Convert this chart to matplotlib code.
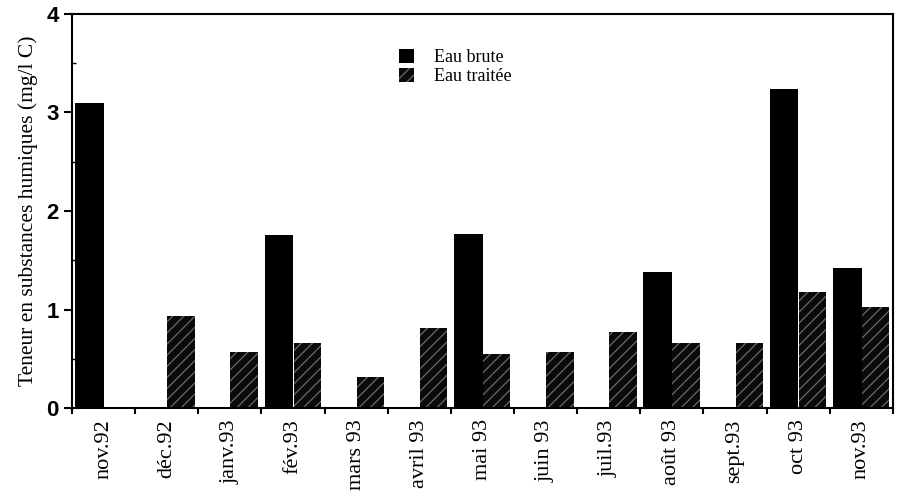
import matplotlib
matplotlib.use("Agg")
import matplotlib.pyplot as plt
import numpy as np
from matplotlib.ticker import FixedLocator, NullFormatter

categories = ["nov.92", "déc.92", "janv.93", "fév.93", "mars 93", "avril 93",
              "mai 93", "juin 93", "juil.93", "août 93", "sept.93", "oct 93", "nov.93"]
eau_brute = [3.10, 0.0, 0.0, 1.76, 0.0, 0.0, 1.77, 0.0, 0.0, 1.38, 0.0, 3.24, 1.42]
eau_traitee = [0.0, 0.93, 0.57, 0.66, 0.31, 0.815, 0.55, 0.57, 0.77, 0.66, 0.66, 1.18, 1.03]
yticks = [0, 1, 2, 3, 4]

plt.rcParams['hatch.color'] = '#6a6a6a'
plt.rcParams['hatch.linewidth'] = 0.9
serif = ['Liberation Serif', 'DejaVu Serif']

fig = plt.figure(figsize=(9, 4.97), dpi=100)
ax = fig.add_axes([0.08, 0.179, 0.912, 0.793])

x = np.arange(len(categories))
w = 0.455
ax.bar(x - w / 2 + 0.005, eau_brute, width=w, color='black', linewidth=0, label='Eau brute')
ax.bar(x + w / 2, eau_traitee, width=w - 0.02, color='#0a0a0a', hatch='///', linewidth=0,
       label='Eau traitée')

ax.set_xlim(-0.5, len(categories) - 0.5)
ax.set_ylim(0, 4)

# x: tick marks at category boundaries, labels at centers
ax.xaxis.set_major_locator(FixedLocator(np.arange(len(categories) + 1) - 0.5))
ax.xaxis.set_major_formatter(NullFormatter())
ax.xaxis.set_minor_locator(FixedLocator(x))
ax.set_xticklabels(categories, minor=True, rotation=90, fontsize=16, family=serif)
ax.tick_params(axis='x', which='major', direction='out', length=4, width=1.5)
ax.tick_params(axis='x', which='minor', length=0, pad=8)

ax.set_yticks(yticks)
ax.set_yticklabels([str(t) for t in yticks], fontsize=16, fontweight='bold', family=['Liberation Sans'])
ax.yaxis.set_minor_locator(FixedLocator([0.5, 1.5, 2.5, 3.5]))
ax.tick_params(axis='y', which='major', direction='out', length=6, width=1.5)
ax.tick_params(axis='y', which='minor', direction='in', length=3, width=1)

for s in ax.spines.values():
    s.set_linewidth(1.5)

ax.set_ylabel('Teneur en substances humiques (mg/l C)', fontsize=15.5, family=serif, labelpad=6)

leg = ax.legend(loc='upper left', bbox_to_anchor=(0.39, 0.93), frameon=False,
                prop={'family': serif, 'size': 13}, handlelength=0.8, handleheight=0.8,
                handletextpad=1.1, labelspacing=0.1, borderaxespad=0)

fig.savefig('out.png', dpi=100)
